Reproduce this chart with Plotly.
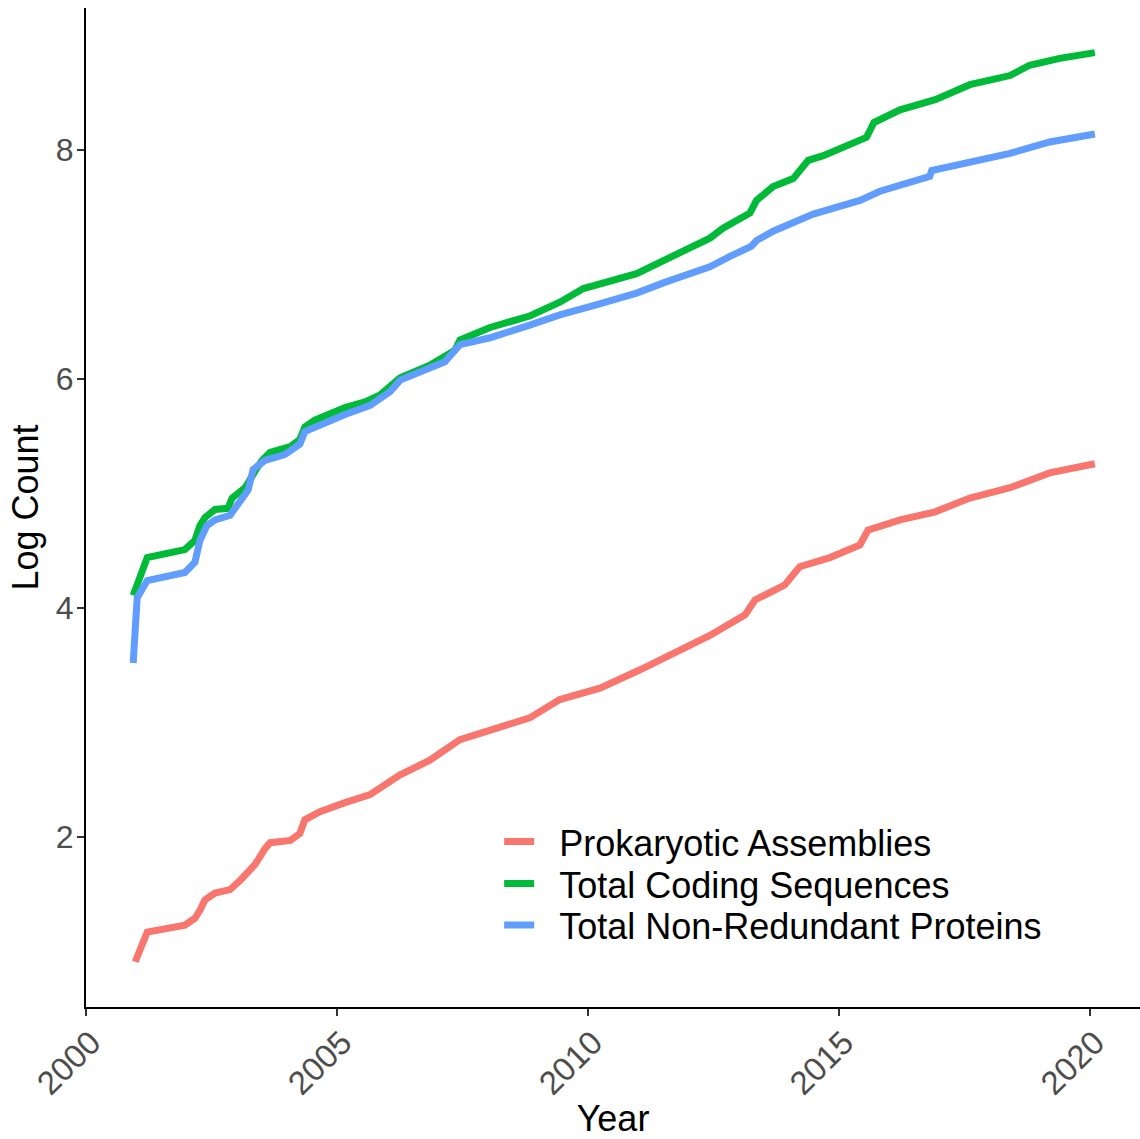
import plotly.graph_objects as go

# Data (year, log count)
green_year = [2000.94, 2001.22, 2001.97, 2002.17, 2002.27, 2002.37, 2002.57, 2002.83, 2002.91, 2003.17,
              2003.39, 2003.51, 2003.67, 2004.07, 2004.26, 2004.36, 2004.56, 2004.86, 2005.16, 2005.56,
              2005.86, 2006.26, 2006.85, 2007.35, 2007.45, 2008.05, 2008.84,
              2009.44, 2009.91, 2010.97, 2011.57, 2012.10, 2012.43, 2012.70, 2013.23, 2013.36, 2013.69,
              2014.09, 2014.22, 2014.39, 2014.69, 2015.22, 2015.55, 2015.62, 2015.70,
              2016.22, 2016.92, 2017.61, 2018.41, 2018.80, 2019.40, 2020.10]
green_val = [4.11, 4.44, 4.51, 4.59, 4.72, 4.79, 4.86, 4.87, 4.96, 5.05,
             5.21, 5.29, 5.36, 5.41, 5.47, 5.58, 5.64, 5.70, 5.75, 5.80,
             5.86, 6.01, 6.12, 6.25, 6.34, 6.45, 6.55,
             6.67, 6.79, 6.92, 7.05, 7.15, 7.23, 7.32, 7.45, 7.56, 7.68,
             7.75, 7.81, 7.91, 7.95, 8.04, 8.11, 8.17, 8.24,
             8.35, 8.44, 8.57, 8.65, 8.74, 8.80, 8.85]

blue_year = [2000.94, 2001.02, 2001.22, 2001.97, 2002.17, 2002.27, 2002.41, 2002.57, 2002.87, 2003.07,
             2003.23, 2003.33, 2003.57, 2003.96, 2004.26, 2004.36, 2004.86, 2005.16, 2005.66, 2006.06,
             2006.26, 2006.65, 2007.15, 2007.45, 2008.05, 2008.84,
             2009.44, 2010.11, 2010.97, 2011.57, 2012.43, 2012.83, 2013.26, 2013.36, 2013.69, 2014.49,
             2015.42, 2015.82, 2016.61, 2016.81, 2016.85, 2017.61,
             2018.41, 2019.20, 2020.10]
blue_val = [3.52, 4.09, 4.24, 4.31, 4.40, 4.59, 4.72, 4.77, 4.81, 4.94,
            5.03, 5.21, 5.29, 5.34, 5.43, 5.54, 5.64, 5.69, 5.77, 5.89,
            5.99, 6.06, 6.15, 6.30, 6.36, 6.47,
            6.56, 6.64, 6.75, 6.85, 6.98, 7.07, 7.16, 7.21, 7.29, 7.44,
            7.56, 7.64, 7.75, 7.77, 7.82, 7.90,
            7.97, 8.07, 8.14]

red_year = [2000.98, 2001.22, 2001.97, 2002.17, 2002.27, 2002.37, 2002.57, 2002.87, 2003.07, 2003.37,
            2003.57, 2003.67, 2004.07, 2004.26, 2004.36, 2004.66, 2005.16, 2005.66, 2006.25, 2006.85,
            2007.45, 2008.05, 2008.84, 2009.44, 2010.24, 2011.04, 2011.83, 2012.43, 2013.13, 2013.33,
            2013.92, 2014.22, 2014.82, 2015.42, 2015.58, 2016.22, 2016.92, 2017.61, 2018.41, 2019.20,
            2020.10]
red_val = [0.91, 1.17, 1.23, 1.29, 1.36, 1.45, 1.51, 1.54, 1.62, 1.76,
           1.90, 1.95, 1.97, 2.03, 2.15, 2.22, 2.30, 2.37, 2.54, 2.67,
           2.85, 2.93, 3.04, 3.20, 3.30, 3.46, 3.63, 3.76, 3.94, 4.07,
           4.20, 4.36, 4.44, 4.55, 4.68, 4.77, 4.84, 4.96, 5.05, 5.18,
           5.26]

series_names = ["Prokaryotic Assemblies", "Total Coding Sequences", "Total Non-Redundant Proteins"]
series_colors = ["#F8766D", "#00BA38", "#619CFF"]
series_data = [(red_year, red_val), (green_year, green_val), (blue_year, blue_val)]

x_ticks = [2000, 2005, 2010, 2015, 2020]
y_ticks = [2, 4, 6, 8]

# legend rows (paper y of each row centre)
legend_rows = [0.1655, 0.1234, 0.0821]
legend_ids = ["legend", "legend2", "legend3"]
GAP = "\u00a0\u00a0"  # visual gap between legend key and label

fig = go.Figure()
for name, (xs, ys), col, lid in zip(series_names, series_data, series_colors, legend_ids):
    fig.add_trace(go.Scatter(x=xs, y=ys, mode="lines", name=GAP + name, legend=lid,
                             line=dict(color=col, width=7)))

legend_common = dict(x=0.392, xanchor="left", yanchor="middle",
                     bgcolor="rgba(0,0,0,0)", borderwidth=0,
                     font=dict(family="Liberation Sans, Arial, sans-serif", size=36, color="black"),
                     itemwidth=30)

fig.update_layout(
    width=1140, height=1139,
    margin=dict(l=86, r=0, t=8, b=132, autoexpand=False),
    paper_bgcolor="white", plot_bgcolor="white",
    font=dict(family="Liberation Sans, Arial, sans-serif", size=32, color="black"),
    showlegend=True,
    legend=dict(y=legend_rows[0], **legend_common),
    legend2=dict(y=legend_rows[1], **legend_common),
    legend3=dict(y=legend_rows[2], **legend_common),
    xaxis=dict(range=[2000, 2021], tickvals=x_ticks, ticktext=[str(t) for t in x_ticks],
               tickangle=-45, showgrid=False, zeroline=False, automargin=False,
               showline=True, linecolor="black", linewidth=2,
               ticks="outside", ticklen=7, tickwidth=1.5, tickcolor="#333333",
               ticklabelshift=5, ticklabelstandoff=-6,
               tickfont=dict(size=33, color="#4D4D4D"),
               title=dict(text="Year", font=dict(size=36, color="black"), standoff=16)),
    yaxis=dict(range=[0.515, 9.24], tickvals=y_ticks, showgrid=False, zeroline=False,
               automargin=False,
               showline=True, linecolor="black", linewidth=2,
               ticks="outside", ticklen=7, tickwidth=1.5, tickcolor="#333333",
               ticklabelstandoff=-3,
               tickfont=dict(size=32, color="#4D4D4D"),
               title=dict(text="Log Count", font=dict(size=36, color="black"), standoff=6)),
)

fig.write_html("out.html", config={"displayModeBar": False},
               post_script="document.body.style.margin='0';")
